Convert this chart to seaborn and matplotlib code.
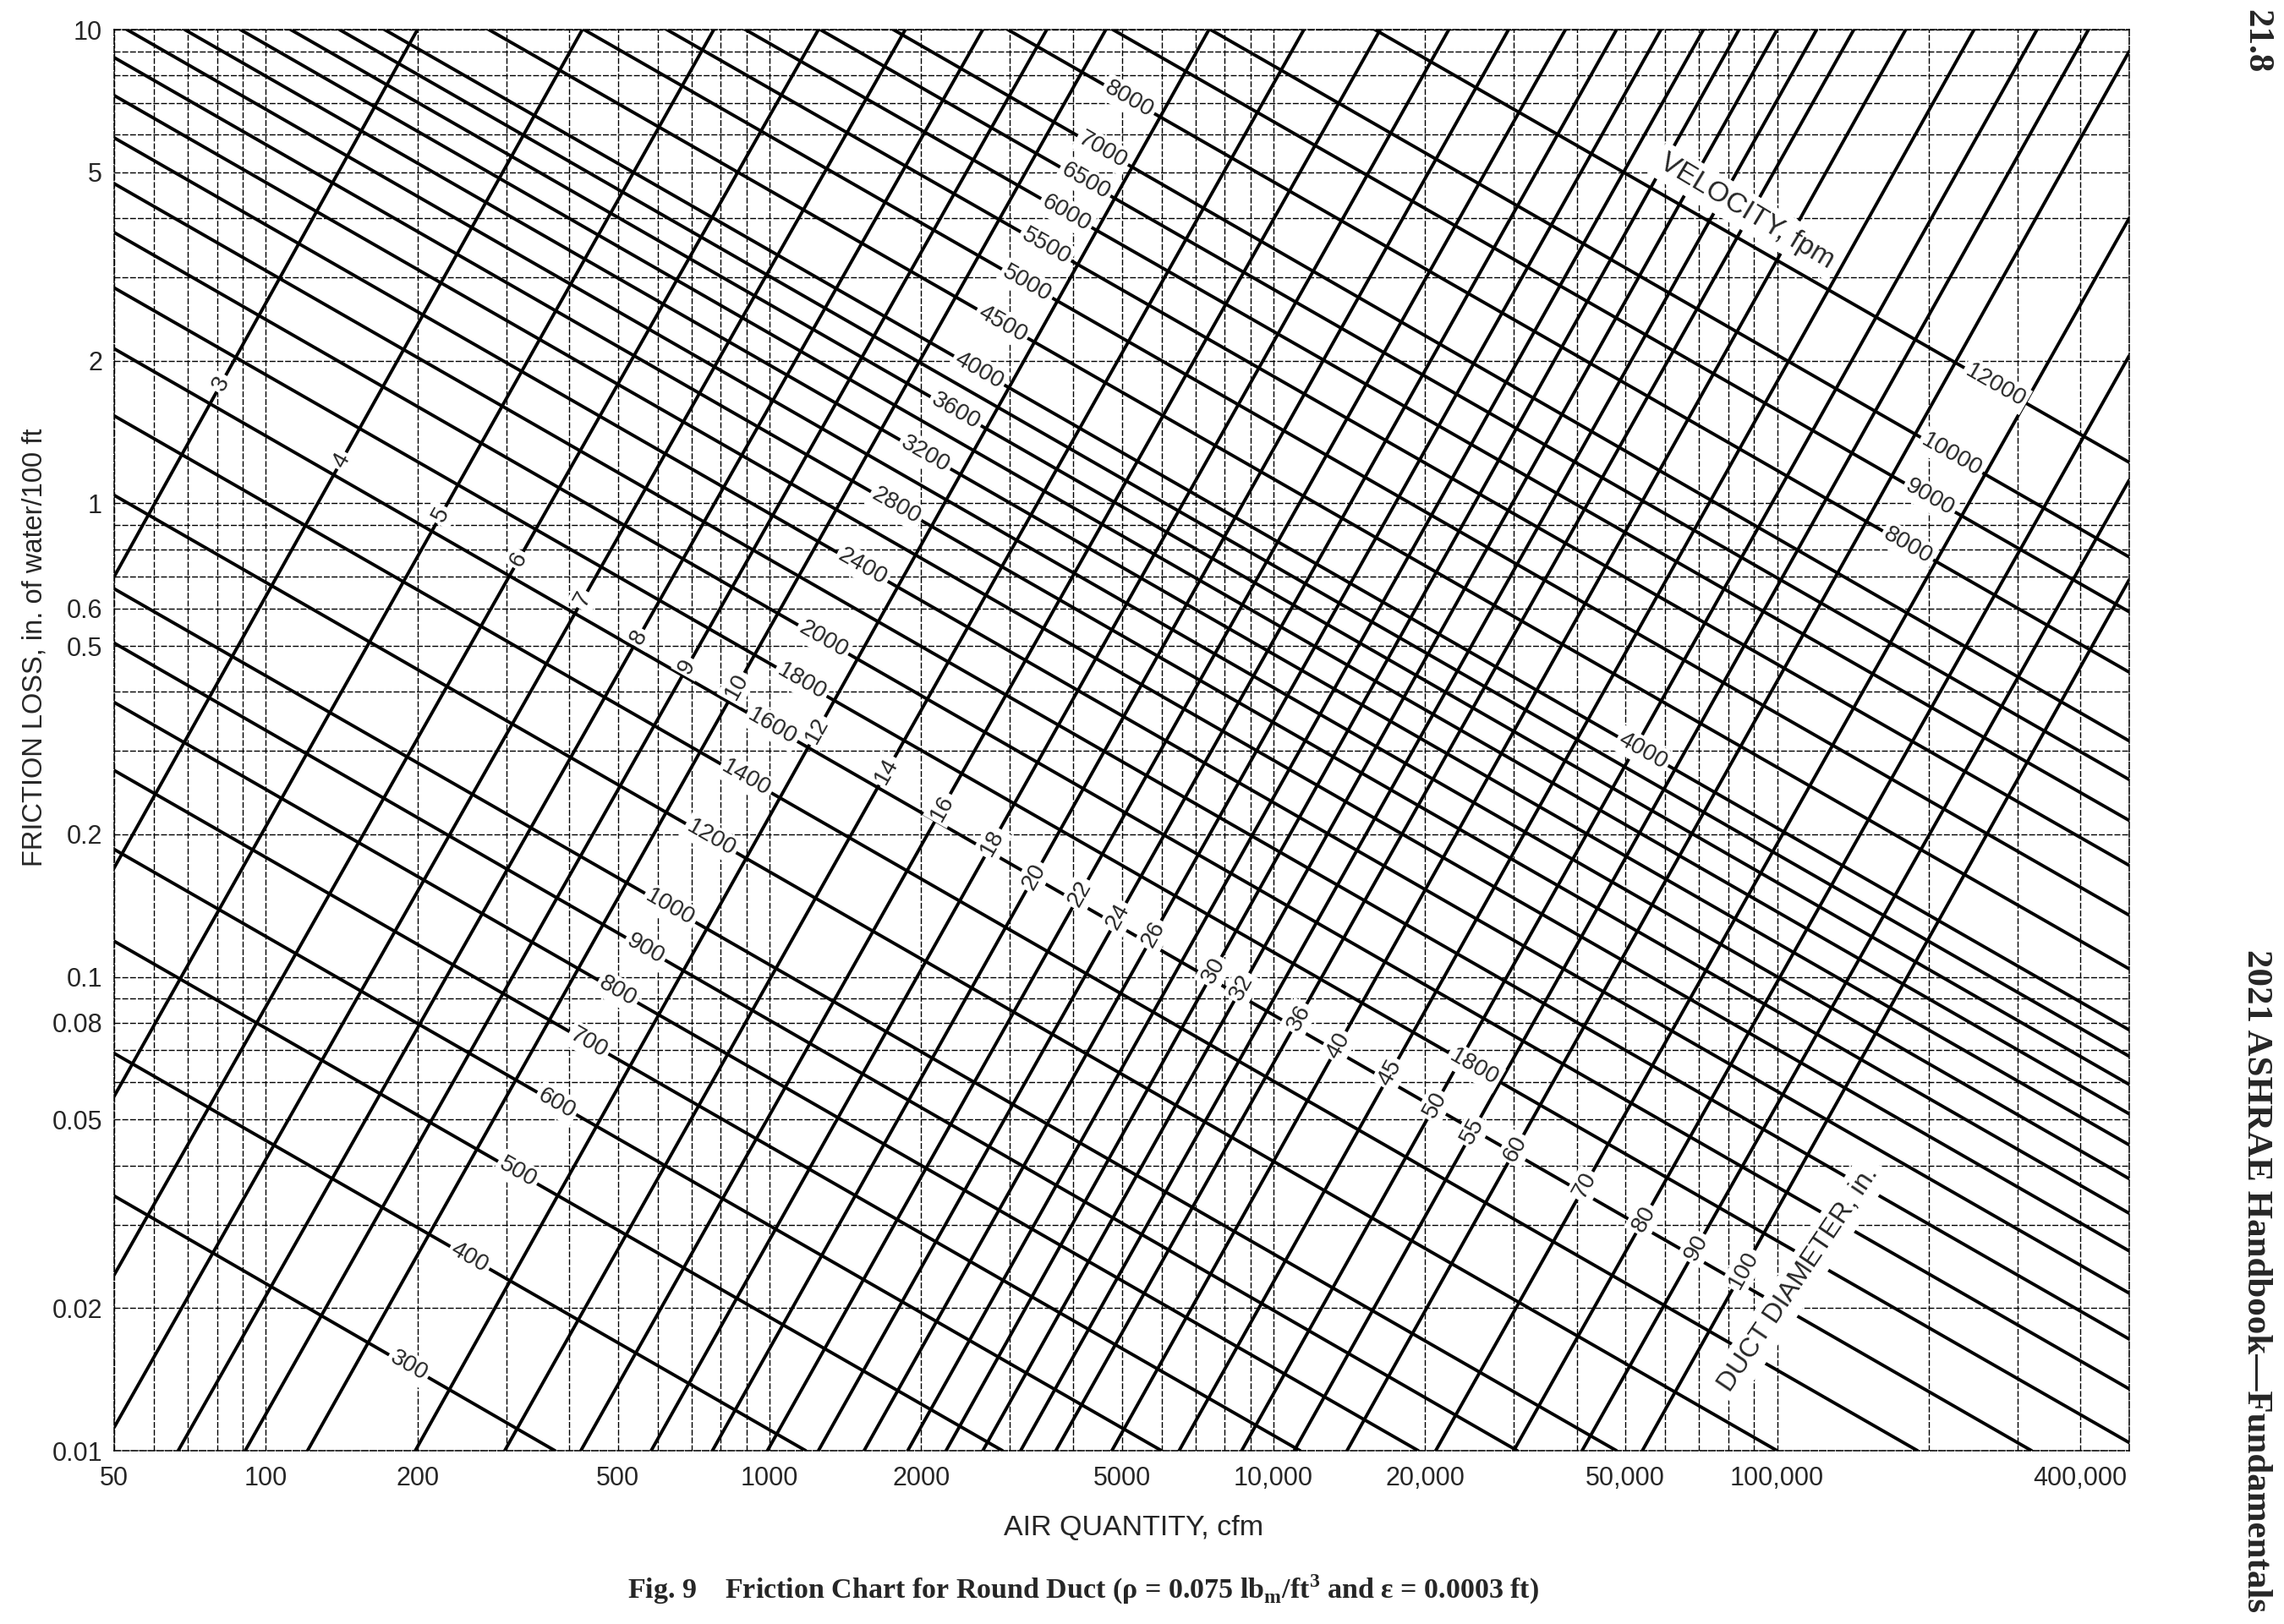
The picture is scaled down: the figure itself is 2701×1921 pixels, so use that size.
import numpy as np
import pandas as pd
import matplotlib
matplotlib.use("Agg")
import matplotlib.pyplot as plt
import seaborn as sns
from matplotlib.ticker import LogLocator, NullFormatter

# ---------------- data ----------------
# duct diameter lines (in.): where each line enters and leaves the frame
diam_in = [3, 4, 5, 6, 7, 8, 9, 10, 12, 14, 16, 18, 20, 22, 24, 26, 28, 30,
           32, 34, 36, 40, 45, 50, 55, 60, 70, 80, 90, 100]
diam_start_cfm = [50, 50, 50, 50, 50, 67, 91, 121, 198, 298, 422, 582, 770,
                  990, 1250, 1540, 1880, 2240, 2650, 3150, 3700, 4780, 6500,
                  8650, 11000, 14000, 21000, 30000, 41000, 54000]
diam_start_fric = [0.70, 0.17, 0.056, 0.0235, 0.0112, 0.01, 0.01, 0.01, 0.01,
                   0.01, 0.01, 0.01, 0.01, 0.01, 0.01, 0.01, 0.01, 0.01, 0.01,
                   0.01, 0.01, 0.01, 0.01, 0.01, 0.01, 0.01, 0.01, 0.01, 0.01,
                   0.01]
diam_end_cfm = [200, 425, 775, 1250, 1860, 2650, 3550, 4650, 7450, 11500,
                16300, 22300, 29300, 38000, 48000, 58800, 71400, 84000,
                100000, 119800, 142000, 180000, 246000, 328000, 415000,
                500000, 500000, 500000, 500000, 500000]
diam_end_fric = [10, 10, 10, 10, 10, 10, 10, 10, 10, 10, 10, 10, 10, 10, 10,
                 10, 10, 10, 10, 10, 10, 10, 10, 10, 10, 9.0, 4.0, 2.05, 1.12,
                 0.69]

# velocity lines (fpm)
vel_fpm = [300, 400, 500, 600, 700, 800, 900, 1000, 1200, 1400, 1600, 1800,
           2000, 2200, 2400, 2600, 2800, 3000, 3200, 3400, 3600, 3800, 4000,
           4500, 5000, 5500, 6000, 6500, 7000, 8000, 9000, 10000, 12000]
vel_start_cfm = [50, 50, 50, 50, 50, 50, 50, 50, 50, 50, 50, 50, 50, 50, 50,
                 50, 50, 53, 69, 89, 112, 140, 172, 277, 428, 625, 895, 1260,
                 1760, 2970, 4800, 7500, 15900]
vel_start_fric = [0.0345, 0.069, 0.119, 0.186, 0.273, 0.380, 0.507, 0.660,
                  1.04, 1.53, 2.12, 2.85, 3.73, 4.73, 5.91, 7.26, 8.73, 10, 10,
                  10, 10, 10, 10, 10, 10, 10, 10, 10, 10, 10, 10, 10, 10]
vel_end_cfm = [375, 1180, 2900, 6000, 11300, 19400, 30500, 48000, 100000,
               190000, 320000, 500000, 500000, 500000, 500000, 500000, 500000,
               500000, 500000, 500000, 500000, 500000, 500000, 500000, 500000,
               500000, 500000, 500000, 500000, 500000, 500000, 500000, 500000]
vel_end_fric = [0.01, 0.01, 0.01, 0.01, 0.01, 0.01, 0.01, 0.01, 0.01, 0.01,
                0.01, 0.0104, 0.0135, 0.0172, 0.0215, 0.0264, 0.0317, 0.0375,
                0.0442, 0.0514, 0.0593, 0.068, 0.0773, 0.104, 0.135, 0.172,
                0.214, 0.261, 0.315, 0.44, 0.59, 0.77, 1.22]

# labels written on the lines (diameter labels located by friction value,
# velocity labels located by air quantity)
diam_label_of = [3, 4, 5, 6, 7, 8, 9, 10, 12, 14, 16, 18, 20, 22, 24, 26, 30,
                 32, 36, 40, 45, 50, 55, 60, 70, 80, 90, 100]
diam_label_fric = [1.79, 1.23, 0.945, 0.76, 0.626, 0.521, 0.452, 0.41, 0.331,
                   0.272, 0.2275, 0.192, 0.163, 0.150, 0.134, 0.123, 0.103,
                   0.0952, 0.082, 0.0717, 0.0627, 0.0536, 0.0472, 0.0434,
                   0.0363, 0.0308, 0.0268, 0.0241]
vel_label_of = [300, 400, 500, 600, 700, 800, 900, 1000, 1200, 1400, 1600,
                1800, 2000, 2400, 2800, 3200, 3600, 4000, 4500, 5000, 5500,
                6000, 6500, 7000, 8000, 12000, 10000, 9000, 8000, 4000, 1800]
vel_label_cfm = [192, 254, 316, 378, 438, 500, 567, 635, 765, 898, 1012,
                 1157, 1278, 1530, 1783, 2037, 2341, 2605, 2897, 3245, 3537,
                 3882, 4234, 4587, 5170, 271000, 222000, 200900, 181900,
                 54150, 25020]

x_ticks = [50, 100, 200, 500, 1000, 2000, 5000, 10000, 20000, 50000, 100000,
           400000]
x_tick_labels = ["50", "100", "200", "500", "1000", "2000", "5000", "10,000",
                 "20,000", "50,000", "100,000", "400,000"]
y_ticks = [0.01, 0.02, 0.05, 0.08, 0.1, 0.2, 0.5, 0.6, 1, 2, 5, 10]
y_tick_labels = ["0.01", "0.02", "0.05", "0.08", "0.1", "0.2", "0.5", "0.6",
                 "1", "2", "5", "10"]

# ---------------- build long table ----------------
rows = []
for d, q0, f0, q1, f1 in zip(diam_in, diam_start_cfm, diam_start_fric,
                             diam_end_cfm, diam_end_fric):
    rows.append({"line": f"D{d}", "cfm": q0, "fric": f0})
    rows.append({"line": f"D{d}", "cfm": q1, "fric": f1})
for v, q0, f0, q1, f1 in zip(vel_fpm, vel_start_cfm, vel_start_fric,
                             vel_end_cfm, vel_end_fric):
    rows.append({"line": f"V{v}", "cfm": q0, "fric": f0})
    rows.append({"line": f"V{v}", "cfm": q1, "fric": f1})
df = pd.DataFrame(rows)

# ---------------- style ----------------
sns.set_theme(style="white")
plt.rcParams["font.family"] = ["Liberation Sans", "DejaVu Sans"]
plt.rcParams["axes.unicode_minus"] = False

W, H = 2701, 1921
fig = plt.figure(figsize=(W / 100, H / 100), dpi=100)
fig.patch.set_facecolor("white")
ax = fig.add_axes([135 / W, 1 - 1716 / H, (2518 - 135) / W, (1716 - 35) / H])
ax.set_xscale("log")
ax.set_yscale("log")

sns.lineplot(data=df, x="cfm", y="fric", units="line", estimator=None,
             sort=False, color="black", linewidth=2.8, ax=ax, legend=False,
             zorder=3)

ax.set_xlim(50, 500000)
ax.set_ylim(0.01, 10)
ax.set_xticks(x_ticks, labels=x_tick_labels)
ax.set_yticks(y_ticks, labels=y_tick_labels)
for axis in (ax.xaxis, ax.yaxis):
    axis.set_minor_locator(LogLocator(base=10, subs=np.arange(1, 10), numticks=60))
    axis.set_minor_formatter(NullFormatter())
ax.tick_params(which="both", length=0)
ax.tick_params(axis="x", labelsize=22, pad=13)
ax.tick_params(axis="y", labelsize=22, pad=10)
ax.set_xlabel("")
ax.set_ylabel("")
ax.set_axisbelow(True)
ax.grid(which="both", color="black", linewidth=1.0, linestyle=(0, (5, 1.6)))
for sp in ax.spines.values():
    sp.set_linestyle((0, (5, 1.6)))
    sp.set_linewidth(1.1)
    sp.set_color("black")


def log_interp(q0, f0, q1, f1, q):
    t = (np.log10(q) - np.log10(q0)) / (np.log10(q1) - np.log10(q0))
    return 10 ** (np.log10(f0) + t * (np.log10(f1) - np.log10(f0)))


def log_interp_inv(q0, f0, q1, f1, f):
    t = (np.log10(f) - np.log10(f0)) / (np.log10(f1) - np.log10(f0))
    return 10 ** (np.log10(q0) + t * (np.log10(q1) - np.log10(q0)))


def screen_angle(q0, f0, q1, f1):
    p0 = ax.transData.transform((q0, f0))
    p1 = ax.transData.transform((q1, f1))
    return np.degrees(np.arctan2(p1[1] - p0[1], p1[0] - p0[0]))


box = dict(boxstyle="square,pad=0.12", fc="white", ec="none")

for d, f in zip(diam_label_of, diam_label_fric):
    i = diam_in.index(d)
    seg = (diam_start_cfm[i], diam_start_fric[i], diam_end_cfm[i], diam_end_fric[i])
    q = log_interp_inv(*seg, f)
    ang = screen_angle(*seg)
    ax.text(q, f, str(d), rotation=ang, rotation_mode="anchor", ha="center",
            va="center", fontsize=20, bbox=box, zorder=5)

for v, q in zip(vel_label_of, vel_label_cfm):
    i = vel_fpm.index(v)
    seg = (vel_start_cfm[i], vel_start_fric[i], vel_end_cfm[i], vel_end_fric[i])
    f = log_interp(*seg, q)
    ang = screen_angle(*seg)
    ax.text(q, f, str(v), rotation=ang, rotation_mode="anchor", ha="center",
            va="center", fontsize=20, bbox=box, zorder=5)

ax.text(87200, 4.13, "VELOCITY, fpm", rotation=-31, rotation_mode="anchor",
        ha="center", va="center", fontsize=24,
        bbox=dict(boxstyle="square,pad=0.2", fc="white", ec="none"), zorder=5)
ax.text(110400, 0.0230, "DUCT DIAMETER, in.", rotation=56,
        rotation_mode="anchor", ha="center", va="center", fontsize=23,
        bbox=dict(boxstyle="square,pad=0.25", fc="white", ec="none"), zorder=5)

# axis titles
fig.text(1341 / W, 1 - 1808 / H, "AIR QUANTITY, cfm", ha="center",
         va="center", fontsize=24.5)
fig.text(41 / W, 1 - 766 / H, "FRICTION LOSS, in. of water/100 ft",
         rotation=90, ha="center", va="center", fontsize=23.5)

serif = ["Liberation Serif", "DejaVu Serif"]
fig.text(1281 / W, 1 - 1880 / H,
         r"Fig. 9    Friction Chart for Round Duct (ρ = 0.075 lb$_\mathregular{m}$/ft$^\mathregular{3}$ and ε = 0.0003 ft)",
         ha="center", va="center", fontsize=24.5, fontweight="bold", family=serif)
fig.text(2668 / W, 1 - 49 / H, "21.8", rotation=-90, ha="center", va="center",
         fontsize=31, fontweight="bold", family=serif)
fig.text(2668 / W, 1 - 1515 / H, "2021 ASHRAE Handbook\u2014Fundamentals",
         rotation=-90, ha="center", va="center", fontsize=31,
         fontweight="bold", family=serif)

fig.savefig("out.png", dpi=100, facecolor="white")
